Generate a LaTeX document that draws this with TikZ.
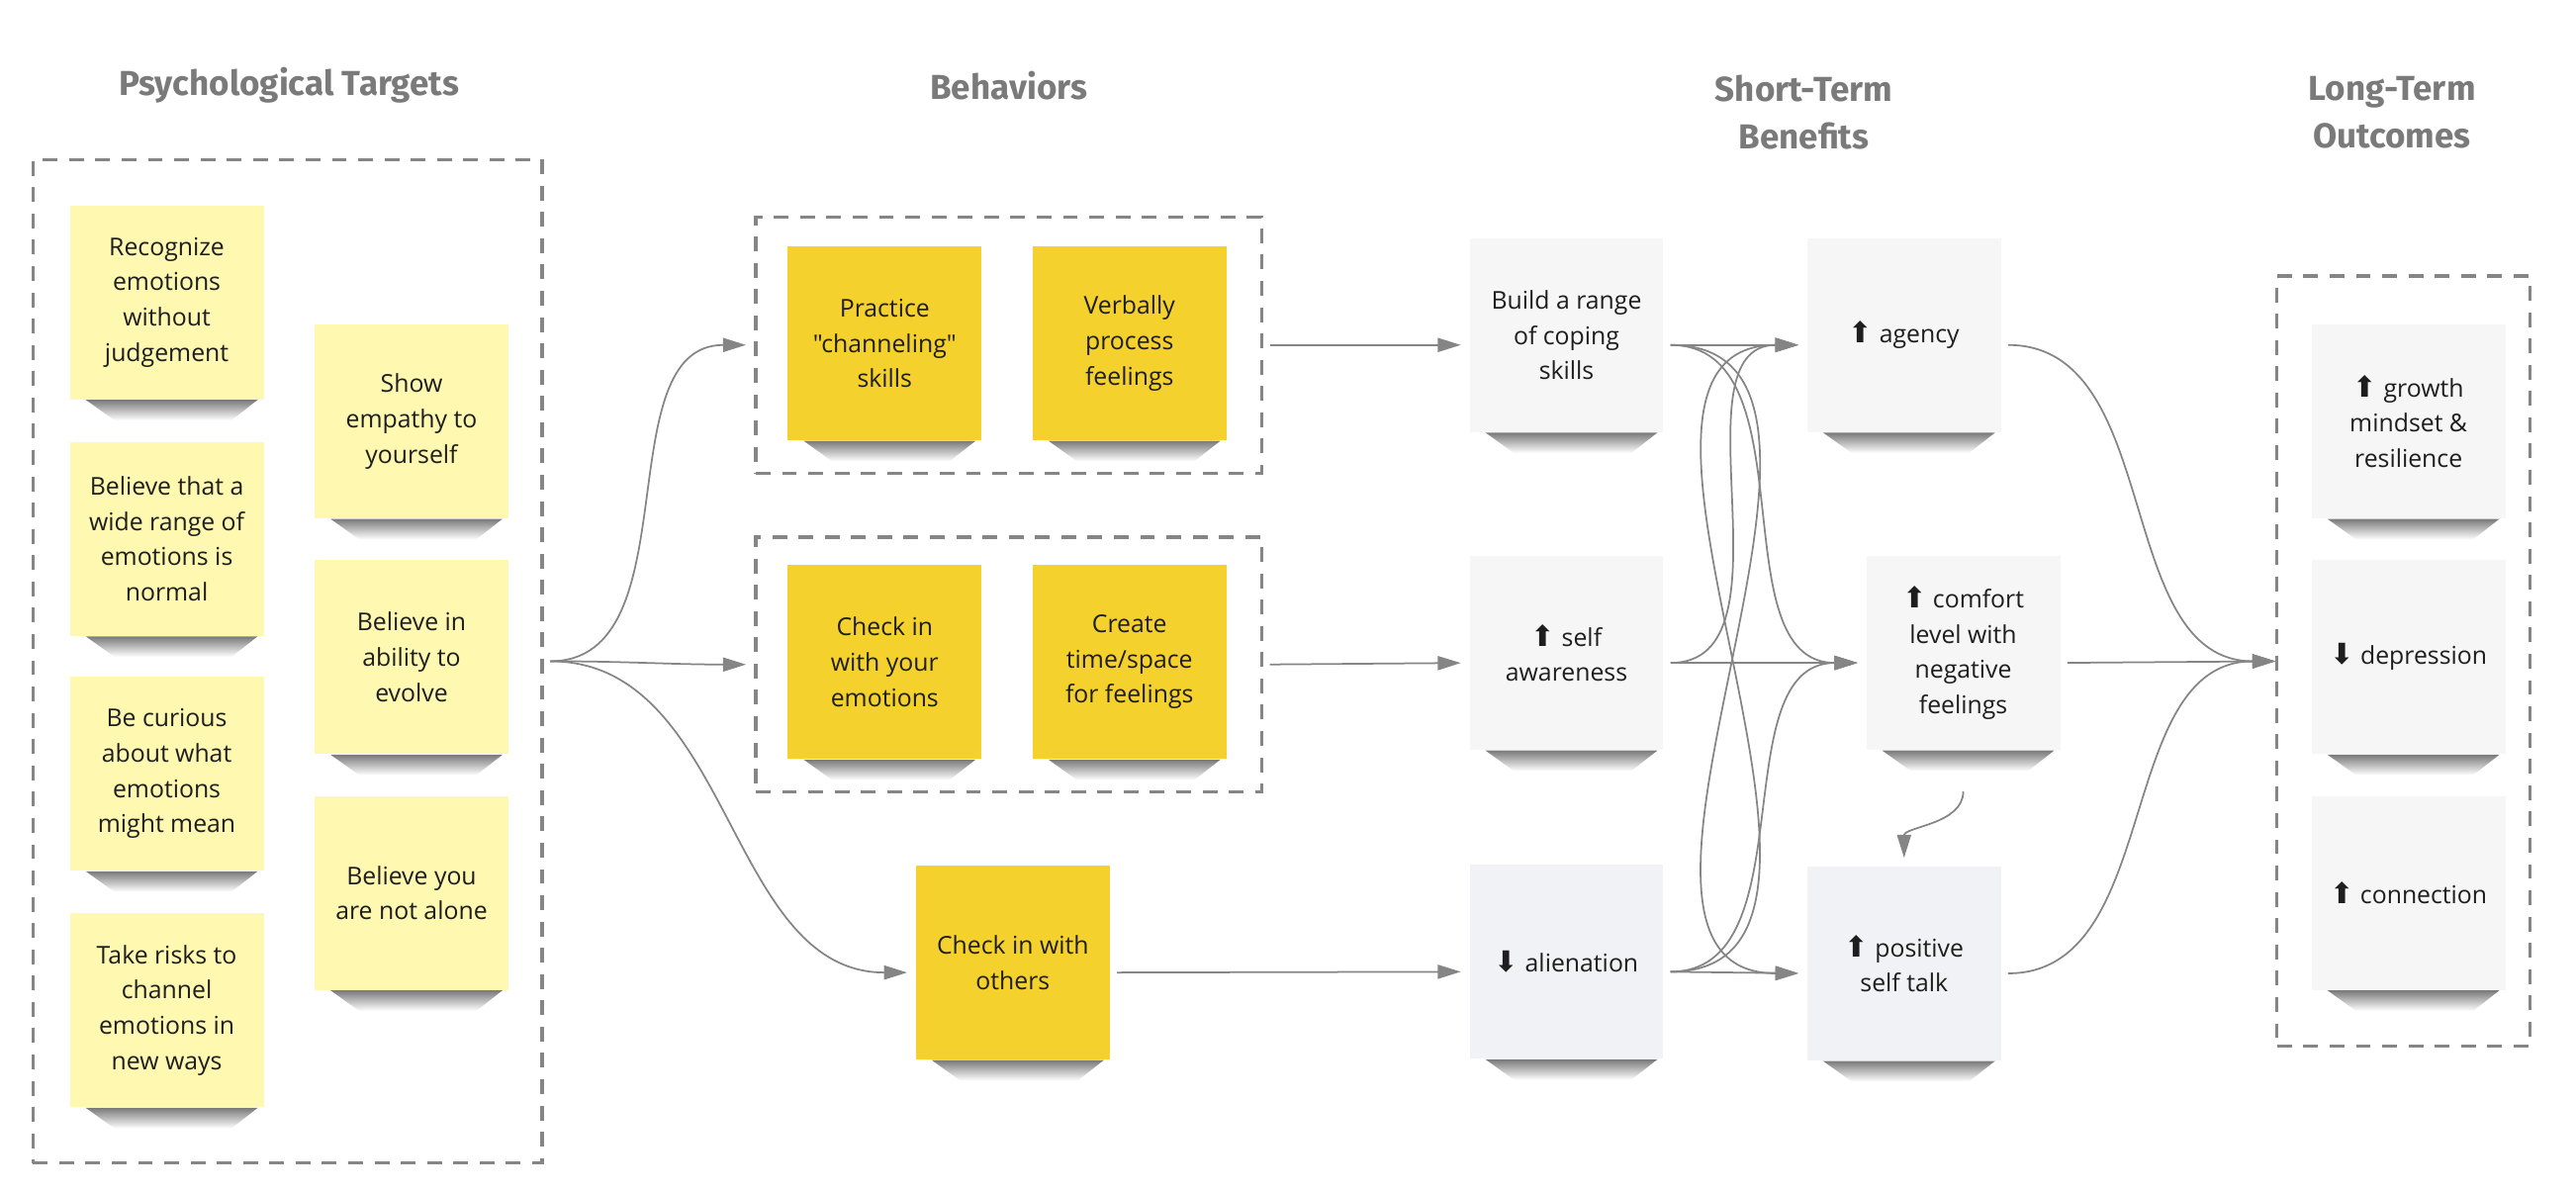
\documentclass[tikz,border=0pt]{standalone}
\usepackage{fontspec}
\setmainfont{Open Sans}[Ligatures=TeXOff]
\newfontfamily\headfont{Fira Sans}
\newfontfamily\arrowfont{DejaVu Sans}
\usetikzlibrary{positioning,arrows.meta,calc,fadings}

\definecolor{paleyellow}{HTML}{FFF8B0}
\definecolor{deepyellow}{HTML}{F5D12E}
\definecolor{notegray}{HTML}{F6F6F6}
\definecolor{noteblue}{HTML}{F1F2F5}
\definecolor{linegray}{HTML}{858585}
\definecolor{headgray}{HTML}{7A7A7A}
\definecolor{inkblack}{HTML}{1E1E1E}

\pgfdeclarelayer{background}
\pgfsetlayers{background,main}
\tikzfading[name=shadefade, top color=transparent!30, middle color=transparent!75, bottom color=transparent!100]

\newcommand{\upa}{{\arrowfont\fontsize{10}{10}\selectfont\char"2B06}}
\newcommand{\downa}{{\arrowfont\fontsize{10}{10}\selectfont\char"2B07}}

\tikzset{
  note/.style={minimum width=2.36cm, minimum height=2.36cm, inner sep=0pt, align=center,
    text=inkblack, font=\fontsize{8.5}{12.2}\selectfont},
  pale/.style={note, fill=paleyellow},
  deep/.style={note, fill=deepyellow},
  light/.style={note, fill=notegray},
  bluish/.style={note, fill=noteblue},
  group/.style={draw=linegray, line width=1.1pt, dash pattern=on 0.18cm off 0.14cm},
  head/.style={font=\headfont\bfseries\fontsize{12}{16.5}\selectfont, text=headgray, align=center},
  link/.style={draw=linegray, line width=0.6pt, -{Triangle[length=0.28cm,width=0.17cm]},
    shorten <=0.08cm, shorten >=0.1cm}
}

\begin{document}
\begin{tikzpicture}[x=0.02cm, y=-0.02cm]
    \useasboundingbox (0,0) rectangle (1568,726);

    \node[head] (targethead) at (176,52) {Psychological Targets};
    \node[head] (behavhead) at (614,52) {Behaviors};
    \node[head] (shorthead) at (1098,68.5) {Short-Term\\Benefits};
    \node[head] (longhead) at (1456,68.5) {Long-Term\\Outcomes};

    \node[group, minimum width=6.2cm, minimum height=12.22cm] (targets) at (175,402.5) {};
    \node[group, minimum width=6.16cm, minimum height=3.12cm] (beh1) at (614,210) {};
    \node[group, minimum width=6.16cm, minimum height=3.1cm] (beh2) at (614,404.5) {};
    \node[group, minimum width=3.08cm, minimum height=9.38cm] (outcomes) at (1463,402.5) {};

    \node[pale] (recognize) at (101.5,184) {Recognize\\emotions\\without\\judgement};
    \node[pale] (widerange) at (101.5,328) {Believe that a\\wide range of\\emotions is\\normal};
    \node[pale] (curious) at (101.5,471) {Be curious\\about what\\emotions\\might mean};
    \node[pale] (risks) at (101.5,615) {Take risks to\\channel\\emotions in\\new ways};
    \node[pale] (empathy) at (250.5,256.5) {Show\\empathy to\\yourself};
    \node[pale] (evolve) at (250.5,400) {Believe in\\ability to\\evolve};
    \node[pale] (alone) at (250.5,543.5) {Believe you\\are not alone};

    \node[deep] (practice) at (538.5,209) {Practice\\"channeling"\\skills};
    \node[deep] (verbal) at (687.5,209) {Verbally\\process\\feelings};
    \node[deep] (checkin) at (538.5,403) {Check in\\with your\\emotions};
    \node[deep] (create) at (687.5,403) {Create\\time/space\\for feelings};
    \node[deep] (others) at (616.5,586) {Check in with\\others};

    \node[light] (build) at (953.5,204) {Build a range\\of coping\\skills};
    \node[light] (self) at (953.5,397.5) {\upa{} self\\awareness};
    \node[bluish] (alien) at (953.5,585.5) {\downa{} alienation};
    \node[light] (agency) at (1159,204) {\upa{} agency};
    \node[light] (comfort) at (1195,397.5) {\upa{} comfort\\level with\\negative\\feelings};
    \node[bluish] (positive) at (1159,586.5) {\upa{} positive\\self talk};

    \node[light] (growth) at (1466,256.5) {\upa{} growth\\mindset \&\\resilience};
    \node[light] (depress) at (1466,400) {\downa{} depression};
    \node[light] (connect) at (1466,543.5) {\upa{} connection};

    \begin{pgfonlayer}{background}
    \foreach \n in {recognize,widerange,curious,risks,empathy,evolve,alone,practice,verbal,
        checkin,create,others,build,self,alien,agency,comfort,positive,growth,depress,connect}
      \fill[black!75, path fading=shadefade] ([xshift=0.2cm]\n.south west) -- ([xshift=-0.08cm]\n.south east)
        -- ([xshift=-0.4cm,yshift=-0.25cm]\n.south east) -- ([xshift=0.55cm,yshift=-0.25cm]\n.south west) -- cycle;
    \end{pgfonlayer}

    \foreach \n in {others,build,self,alien,agency,comfort,positive} {
      \coordinate (\n-in) at ($(\n.west)+(0,6)$);
      \coordinate (\n-out) at ($(\n.east)+(0,6)$);
    }

    \draw[link] (targets.east) to[out=0,in=180] (beh1.west);
    \draw[link] (targets.east) to[out=0,in=180] (beh2.west);
    \draw[link] (targets.east) to[out=0,in=180] (others-in);

    \draw[link] (beh1.east) -- (build-in);
    \draw[link] (beh2.east) -- (self-in);
    \draw[link] (others-out) -- (alien-in);

    \draw[link] (build-out) -- (agency-in);
    \draw[link] (build-out) to[out=0,in=180] (comfort-in);
    \draw[link] (build-out) to[out=0,in=180] (positive-in);
    \draw[link] (self-out) to[out=0,in=180] (agency-in);
    \draw[link] (self-out) -- (comfort-in);
    \draw[link] (alien-out) to[out=0,in=180] (agency-in);
    \draw[link] (alien-out) to[out=0,in=180] (comfort-in);
    \draw[link] (alien-out) -- (positive-in);
    \draw[link] ($(comfort.south)+(0,21)$) to[out=-90,in=90] (positive.north);

    \draw[link, shorten >=0pt] (agency-out) to[out=0,in=180] (outcomes.west);
    \draw[link, shorten >=0pt] (comfort-out) -- (outcomes.west);
    \draw[link, shorten >=0pt] (positive-out) to[out=0,in=180] (outcomes.west);
\end{tikzpicture}
\end{document}
